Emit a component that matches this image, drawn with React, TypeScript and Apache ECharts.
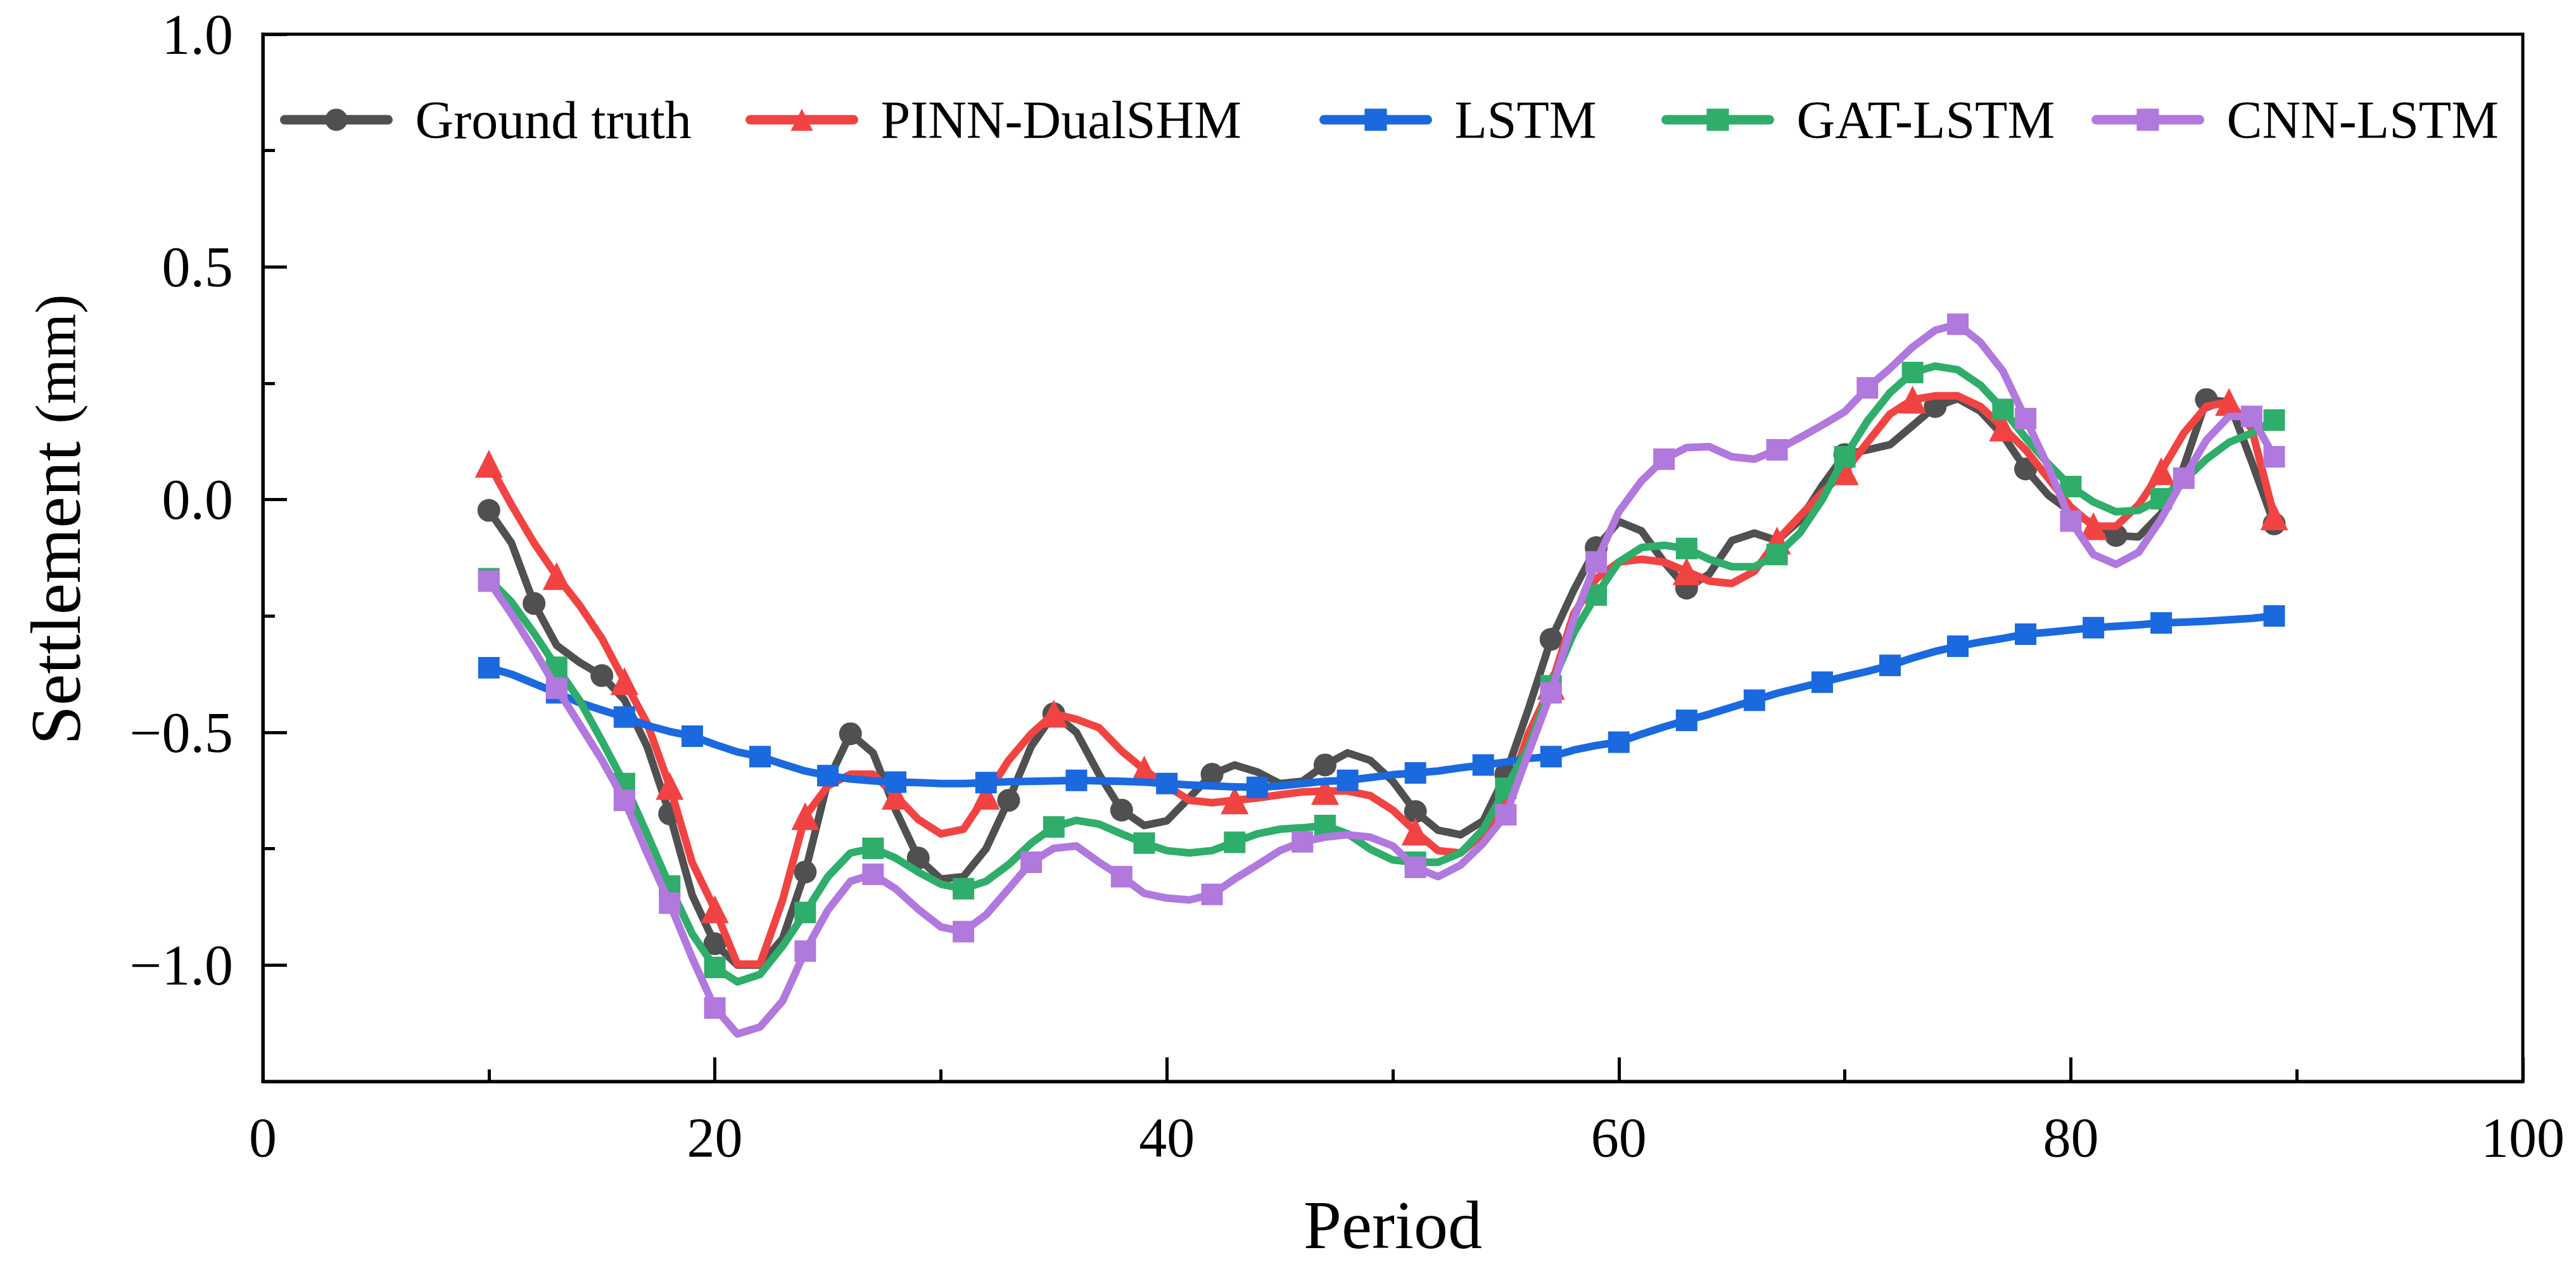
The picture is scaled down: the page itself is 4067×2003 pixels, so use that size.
import React, { useEffect, useRef } from "react";
import * as echarts from "echarts";

const periods = [
  10, 11, 12, 13, 14, 15, 16, 17, 18, 19,
  20, 21, 22, 23, 24, 25, 26, 27, 28, 29,
  30, 31, 32, 33, 34, 35, 36, 37, 38, 39,
  40, 41, 42, 43, 44, 45, 46, 47, 48, 49,
  50, 51, 52, 53, 54, 55, 56, 57, 58, 59,
  60, 61, 62, 63, 64, 65, 66, 67, 68, 69,
  70, 71, 72, 73, 74, 75, 76, 77, 78, 79,
  80, 81, 82, 83, 84, 85, 86, 87, 88, 89,
];

const groundTruth = [
  -0.023, -0.093, -0.223, -0.313, -0.349, -0.378, -0.43, -0.53, -0.675, -0.85,
  -0.954, -1.0, -1.0, -0.943, -0.8, -0.605, -0.503, -0.544, -0.667, -0.77,
  -0.815, -0.81, -0.75, -0.646, -0.53, -0.46, -0.5, -0.59, -0.667, -0.7,
  -0.69, -0.64, -0.59, -0.57, -0.585, -0.61, -0.605, -0.57, -0.544, -0.56,
  -0.605, -0.67, -0.71, -0.72, -0.69, -0.59, -0.45, -0.3, -0.195, -0.103,
  -0.047, -0.067, -0.134, -0.19, -0.16, -0.088, -0.072, -0.088, -0.045, 0.03,
  0.097, 0.107, 0.118, 0.159, 0.2, 0.217, 0.19, 0.138, 0.066, 0.01,
  -0.026, -0.052, -0.077, -0.08, -0.03, 0.071, 0.215, 0.21, 0.082, -0.052,
];

const pinnDualSHM = [
  0.077, -0.011, -0.093, -0.164, -0.226, -0.298, -0.39, -0.48, -0.615, -0.78,
  -0.88, -0.998, -0.998, -0.86, -0.68, -0.615, -0.59, -0.59, -0.636, -0.687,
  -0.718, -0.708, -0.636, -0.56, -0.503, -0.46, -0.472, -0.49, -0.54, -0.58,
  -0.615, -0.646, -0.651, -0.646, -0.641, -0.634, -0.628, -0.626, -0.626, -0.636,
  -0.667, -0.713, -0.754, -0.759, -0.718, -0.646, -0.503, -0.4, -0.246, -0.17,
  -0.134, -0.128, -0.134, -0.154, -0.175, -0.18, -0.154, -0.088, -0.036, 0.015,
  0.061, 0.123, 0.184, 0.215, 0.223, 0.223, 0.2, 0.155, 0.107, 0.046,
  -0.016, -0.057, -0.057, -0.011, 0.061, 0.143, 0.2, 0.21, 0.153, -0.036,
];

const lstm = [
  -0.361, -0.375, -0.395, -0.415, -0.436, -0.452, -0.467, -0.485, -0.498, -0.508,
  -0.526, -0.542, -0.552, -0.568, -0.583, -0.593, -0.6, -0.604, -0.607, -0.608,
  -0.61, -0.61, -0.608, -0.606, -0.605, -0.604, -0.603, -0.604, -0.605, -0.607,
  -0.61, -0.613, -0.615, -0.617, -0.618, -0.615, -0.61, -0.605, -0.603, -0.597,
  -0.591, -0.587, -0.583, -0.576, -0.57, -0.564, -0.556, -0.552, -0.538, -0.528,
  -0.521, -0.504, -0.488, -0.474, -0.461, -0.446, -0.431, -0.416, -0.404, -0.392,
  -0.38, -0.369, -0.356, -0.34, -0.326, -0.315, -0.306, -0.298, -0.289, -0.285,
  -0.28, -0.275, -0.272, -0.269, -0.265, -0.263, -0.261, -0.258, -0.255, -0.25,
];

const gatLstm = [
  -0.17, -0.22, -0.287, -0.36, -0.43, -0.518, -0.61, -0.718, -0.83, -0.933,
  -1.005, -1.036, -1.02, -0.959, -0.887, -0.81, -0.759, -0.749, -0.77, -0.8,
  -0.826, -0.836, -0.82, -0.784, -0.738, -0.703, -0.689, -0.697, -0.718, -0.738,
  -0.754, -0.759, -0.754, -0.736, -0.718, -0.708, -0.705, -0.7, -0.718, -0.751,
  -0.774, -0.779, -0.779, -0.759, -0.708, -0.62, -0.533, -0.4, -0.287, -0.205,
  -0.134, -0.103, -0.098, -0.105, -0.128, -0.144, -0.144, -0.118, -0.072, 0.0,
  0.092, 0.169, 0.23, 0.273, 0.287, 0.279, 0.246, 0.194, 0.133, 0.077,
  0.028, -0.005, -0.026, -0.023, 0.002, 0.041, 0.087, 0.123, 0.143, 0.171,
];

const cnnLstm = [
  -0.175, -0.246, -0.323, -0.405, -0.482, -0.559, -0.646, -0.759, -0.867, -0.985,
  -1.092, -1.148, -1.133, -1.077, -0.97, -0.882, -0.82, -0.805, -0.836, -0.88,
  -0.918, -0.928, -0.892, -0.836, -0.779, -0.749, -0.744, -0.779, -0.81, -0.846,
  -0.856, -0.86, -0.848, -0.815, -0.785, -0.754, -0.735, -0.725, -0.72, -0.725,
  -0.744, -0.79, -0.81, -0.785, -0.738, -0.677, -0.544, -0.415, -0.257, -0.134,
  -0.026, 0.04, 0.087, 0.112, 0.114, 0.092, 0.087, 0.107, 0.133, 0.16,
  0.189, 0.24, 0.282, 0.328, 0.364, 0.377, 0.338, 0.276, 0.174, 0.071,
  -0.046, -0.118, -0.139, -0.113, -0.041, 0.046, 0.128, 0.179, 0.179, 0.092,
];

// periods at which a marker is drawn
const groundTruthMarks = [10, 12, 15, 18, 20, 24, 26, 29, 33, 35, 38, 42, 47, 51, 55, 57, 59, 63, 70, 74, 78, 82, 86, 89];
const pinnMarks = [10, 13, 16, 18, 20, 24, 28, 32, 35, 39, 43, 47, 51, 57, 63, 67, 70, 73, 77, 81, 84, 87, 89];
const lstmMarks = [10, 13, 16, 19, 22, 25, 28, 32, 36, 40, 44, 48, 51, 54, 57, 60, 63, 66, 69, 72, 75, 78, 81, 84, 89];
const gatMarks = [10, 13, 16, 18, 20, 24, 27, 31, 35, 39, 43, 47, 51, 55, 57, 59, 63, 67, 70, 73, 77, 80, 84, 89];
const cnnMarks = [10, 13, 16, 18, 20, 24, 27, 31, 34, 38, 42, 46, 51, 55, 57, 59, 62, 67, 71, 75, 78, 80, 85, 88, 89];

const seriesNames = ["Ground truth", "PINN-DualSHM", "LSTM", "GAT-LSTM", "CNN-LSTM"];
const yMajorTicks = [-1, -0.5, 0, 0.5, 1];
const yMinorTicks = [-0.75, -0.25, 0.25, 0.75];

const FONT = "'Liberation Serif', 'Times New Roman', 'DejaVu Serif', serif";

function buildData(vals: number[], marks: number[]) {
  return periods.map((p, i) =>
    marks.indexOf(p) >= 0
      ? { value: [p, vals[i]] }
      : { value: [p, vals[i]], symbol: "none" }
  );
}

export default function App() {
  const ref = useRef<HTMLDivElement>(null);

  useEffect(() => {
    if (!ref.current) return;
    const chart = echarts.init(ref.current, null, { renderer: "svg" });

    const colors = ["#505050", "#F24343", "#1A69DF", "#2FAD6A", "#B178DE"];
    const symbols = ["circle", "triangle", "rect", "rect", "rect"];
    const sizes = [36, 44, 34, 34, 34];
    const values = [groundTruth, pinnDualSHM, lstm, gatLstm, cnnLstm];
    const marks = [groundTruthMarks, pinnMarks, lstmMarks, gatMarks, cnnMarks];
    const legendLefts = [442, 1177, 2083, 2623, 3302];

    const tickStyle = { color: "#000", width: 5 };

    const option: any = {
      animation: false,
      backgroundColor: "#fff",
      grid: {
        left: 415,
        right: 84,
        top: 54,
        bottom: 296,
        show: true,
        borderColor: "#000",
        borderWidth: 5,
        backgroundColor: "transparent",
      },
      legend: seriesNames.map((n, i) => ({
        data: [n],
        left: legendLefts[i],
        top: 147,
        orient: "horizontal",
        padding: 0,
        itemGap: 0,
        itemWidth: 163,
        itemHeight: 44,
        selectedMode: false,
        textStyle: {
          fontSize: 84,
          fontFamily: FONT,
          color: "#000",
          padding: [0, 0, 0, 38],
        },
        lineStyle: { width: 15, cap: "round" },
      })),
      xAxis: {
        type: "value",
        min: 0,
        max: 100,
        interval: 20,
        name: "Period",
        nameLocation: "middle",
        nameGap: 172,
        nameTextStyle: { fontSize: 108, fontFamily: FONT, color: "#000" },
        axisLine: { show: true, onZero: false, lineStyle: tickStyle },
        axisTick: { show: true, inside: true, length: 38, lineStyle: tickStyle },
        minorTick: { show: true, splitNumber: 2, length: 19, lineStyle: tickStyle },
        splitLine: { show: false },
        minorSplitLine: { show: false },
        axisLabel: { fontSize: 88, fontFamily: FONT, color: "#000", margin: 44 },
      },
      yAxis: [
        {
          type: "value",
          min: -1.25,
          max: 1,
          position: "left",
          axisLine: { show: true, onZero: false, lineStyle: tickStyle },
          axisTick: {
            show: true,
            inside: true,
            length: 38,
            lineStyle: tickStyle,
            customValues: yMajorTicks,
          },
          splitLine: { show: false },
          axisLabel: {
            fontSize: 90,
            fontFamily: FONT,
            color: "#000",
            margin: 47,
            customValues: yMajorTicks,
            formatter: (v: number) => v.toFixed(1).replace("-", "\u2212"),
          },
        },
        {
          type: "value",
          min: -1.25,
          max: 1,
          position: "left",
          offset: 0,
          axisLine: { show: false },
          axisTick: {
            show: true,
            inside: true,
            length: 19,
            lineStyle: tickStyle,
            customValues: yMinorTicks,
          },
          splitLine: { show: false },
          axisLabel: { show: false },
        },
      ],
      graphic: [
        {
          type: "text",
          x: 88,
          y: 820,
          rotation: Math.PI / 2,
          style: {
            text: "{a|Settlement }{b|(mm)}",
            align: "center",
            verticalAlign: "middle",
            textAlign: "center",
            textVerticalAlign: "middle",
            fill: "#000",
            rich: {
              a: { fontSize: 112, fontFamily: FONT, fill: "#000" },
              b: { fontSize: 92, fontFamily: FONT, fill: "#000" },
            },
          },
        },
      ],
      series: seriesNames.map((n, i) => ({
        name: n,
        type: "line",
        xAxisIndex: 0,
        yAxisIndex: 0,
        data: buildData(values[i], marks[i]),
        symbol: symbols[i],
        symbolSize: sizes[i],
        showAllSymbol: true,
        smooth: false,
        color: colors[i],
        itemStyle: { color: colors[i], borderWidth: 0 },
        lineStyle: { color: colors[i], width: 12, cap: "round", join: "round" },
        emphasis: { disabled: true },
        z: 2 + i,
      })),
    };

    chart.setOption(option);
    return () => {
      chart.dispose();
    };
  }, []);

  return (
    <div
      ref={ref}
      style={{ position: "absolute", left: 0, top: 0, width: 4067, height: 2003, background: "#fff" }}
    />
  );
}
